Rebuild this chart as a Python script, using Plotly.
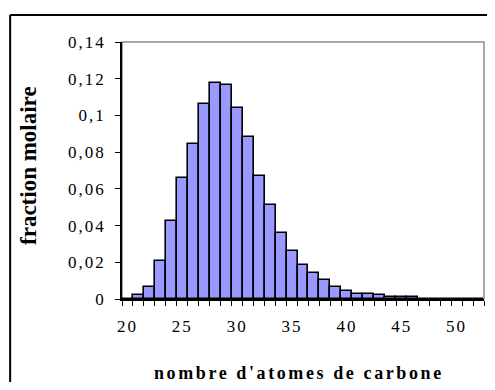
import plotly.graph_objs as go

# Number of carbon atoms (categories) and molar fractions
carbones = list(range(20, 53))
fraction = [0.0, 0.002, 0.0067, 0.0205, 0.0427, 0.0657, 0.0844, 0.1065, 0.1177, 0.1166,
            0.1038, 0.0882, 0.0668, 0.0511, 0.0362, 0.0259, 0.0185, 0.0139, 0.0101, 0.0065,
            0.0045, 0.0029, 0.0027, 0.002, 0.0011, 0.0009, 0.0009, 0.0, 0.0, 0.0,
            0.0, 0.0, 0.0]

x_tickvals = [20, 25, 30, 35, 40, 45, 50]
x_ticktext = ["20", "25", "30", "35", "40", "45", "50"]
y_tickvals = [0, 0.02, 0.04, 0.06, 0.08, 0.1, 0.12, 0.14]
y_ticktext = ["0", "0,02", "0,04", "0,06", "0,08", "0,1", "0,12", "0,14"]

serif = "Liberation Serif, Times New Roman, serif"


def spaced(s, px):
    # Excel-style wide letter spacing
    return '<span style="letter-spacing:%spx">%s</span>' % (px, s)


fig = go.Figure()
fig.add_trace(go.Bar(
    x=carbones, y=fraction, width=1,
    marker=dict(color="#9999FF", line=dict(color="black", width=1.6)),
))

fig.update_layout(
    # page has an 8px body margin all round, so keep the figure inside the window
    width=479, height=374,
    margin=dict(l=114, r=3, t=34, b=83),
    plot_bgcolor="white", paper_bgcolor="white",
    showlegend=False,
    bargap=0,
    font=dict(family=serif, size=16, color="black"),
    shapes=[
        # grey plot-area frame
        dict(type="rect", xref="paper", yref="paper", x0=0, y0=0, x1=1, y1=1,
             line=dict(color="#8c8c8c", width=1.5), layer="below"),
        # outer chart border: left and top edges only
        dict(type="line", xref="paper", yref="paper", x0=-0.309, y0=-0.6, x1=-0.309, y1=1.105,
             line=dict(color="black", width=2)),
        dict(type="line", xref="paper", yref="paper", x0=-0.309, y0=1.105, x1=1.05, y1=1.105,
             line=dict(color="black", width=2)),
    ],
    annotations=[
        dict(text="<b>" + spaced("nombre d'atomes de carbone", 2.6) + "</b>", xref="paper", yref="paper",
             x=0.4876, y=-0.288, xanchor="center", yanchor="middle", showarrow=False,
             font=dict(family=serif, size=18)),
        dict(text="<b>fraction molaire</b>", xref="paper", yref="paper", textangle=-90,
             x=-0.26, y=0.521, xanchor="center", yanchor="middle", showarrow=False,
             font=dict(family=serif, size=23)),
    ],
)

fig.update_xaxes(
    range=[19.5, 52.5],
    tickvals=x_tickvals, ticktext=[spaced(t, 2) for t in x_ticktext],
    tickfont=dict(family=serif, size=17, color="black"),
    ticks="", ticklabelstandoff=11,
    showline=True, linecolor="black", linewidth=1.5,
    showgrid=False, zeroline=False,
    minor=dict(tick0=19.5, dtick=1, ticks="outside", ticklen=5, tickcolor="black", showgrid=False),
)

fig.update_yaxes(
    range=[0, 0.14],
    tickvals=y_tickvals, ticktext=[spaced(t, 2) for t in y_ticktext],
    tickfont=dict(family=serif, size=17, color="black"),
    ticks="outside", ticklen=5, tickcolor="black", ticklabelstandoff=6,
    showline=True, linecolor="black", linewidth=1.5,
    showgrid=False, zeroline=False,
)

fig.write_html("out.html")
